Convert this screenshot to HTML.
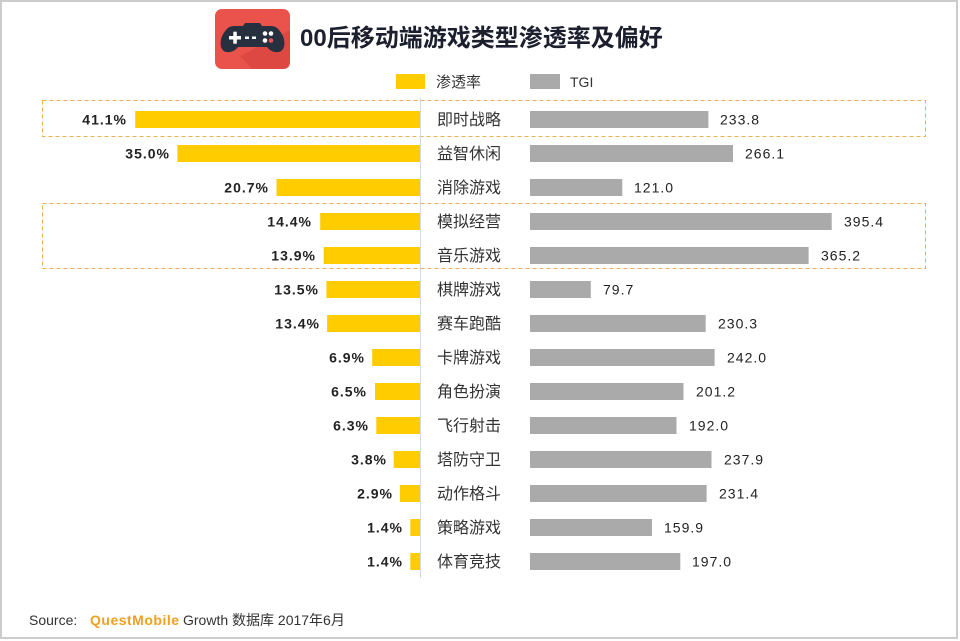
<!DOCTYPE html>
<html><head><meta charset="utf-8"><style>
html,body{margin:0;padding:0;background:#fff;}
svg{display:block;}
.cat{font-family:"Liberation Sans","Noto Sans CJK SC",sans-serif;font-size:16px;fill:#333;}
.lv{font-family:"Liberation Sans",sans-serif;font-size:14px;font-weight:bold;fill:#222;letter-spacing:1px;}
.rv{font-family:"Liberation Sans",sans-serif;font-size:14px;fill:#222;letter-spacing:1px;}
</style></head><body>
<svg width="960" height="641" viewBox="0 0 960 641" xmlns="http://www.w3.org/2000/svg">
<rect x="1" y="1" width="956" height="637" fill="#fff" stroke="#cccccc" stroke-width="2"/>
<!-- icon -->
<g>
<rect x="215" y="9" width="75" height="60" rx="7" fill="#e9534b"/>
<path d="M240 56 L290 30 L290 62 Q290 69 283 69 L252 69 Z" fill="#d9453e" opacity="0.7"/>
<path d="M234 26 Q229 26 226 30 Q219 38 221 47 Q223 53 230 52 Q235 51 238 47 L267 47 Q270 51 275 52 Q282 53 284 47 Q286 38 279 30 Q276 26 271 26 L262 26 L260 23 L245 23 L243 26 Z" fill="#26303f"/>
<rect x="229" y="36" width="12" height="3.5" fill="#fff"/>
<rect x="233.3" y="31.7" width="3.5" height="12" fill="#fff"/>
<rect x="245" y="36.5" width="4" height="2.5" fill="#fff"/>
<rect x="252" y="36.5" width="4" height="2.5" fill="#fff"/>
<circle cx="265" cy="33.5" r="2.3" fill="#fff"/>
<circle cx="271" cy="33.5" r="2.3" fill="#fff"/>
<circle cx="265" cy="40.5" r="2.3" fill="#fff"/>
<circle cx="271" cy="40.5" r="2.3" fill="#e9534b"/>
</g>
<text x="300" y="46" font-family="'Liberation Sans','Noto Sans CJK SC',sans-serif" font-size="24" font-weight="bold" fill="#1c1f2e">00后移动端游戏类型渗透率及偏好</text>
<!-- legend -->
<rect x="396" y="74" width="29" height="15" fill="#ffcc00"/>
<text x="436" y="87" class="cat" style="font-size:15px">渗透率</text>
<rect x="530" y="74" width="30" height="15" fill="#aaaaaa"/>
<text x="570" y="87" font-family="'Liberation Sans',sans-serif" font-size="14" fill="#333">TGI</text>
<!-- dashed boxes -->
<rect x="42.5" y="100.5" width="883" height="36" fill="none" stroke="#f0b050" stroke-width="1" stroke-dasharray="4,3"/>
<rect x="42.5" y="203.5" width="883" height="65" fill="none" stroke="#f0b050" stroke-width="1" stroke-dasharray="4,3"/>
<!-- axis -->
<line x1="420.5" y1="98" x2="420.5" y2="578" stroke="#d4dbe3" stroke-width="1"/>
<g id="rows"></g>
<!-- rows -->
<g>
<rect x="135.2" y="111" width="284.8" height="17" fill="#ffcc00"/><text class="lv" x="127" y="124.5" text-anchor="end">41.1%</text>
<text class="cat" x="437" y="125">即时战略</text>
<rect x="530" y="111" width="178.4" height="17" fill="#aaaaaa"/><text class="rv" x="720" y="124.5">233.8</text>

<rect x="177.4" y="145" width="242.6" height="17" fill="#ffcc00"/><text class="lv" x="170" y="158.5" text-anchor="end">35.0%</text>
<text class="cat" x="437" y="159">益智休闲</text>
<rect x="530" y="145" width="203.0" height="17" fill="#aaaaaa"/><text class="rv" x="745" y="158.5">266.1</text>

<rect x="276.5" y="179" width="143.5" height="17" fill="#ffcc00"/><text class="lv" x="269" y="192.5" text-anchor="end">20.7%</text>
<text class="cat" x="437" y="193">消除游戏</text>
<rect x="530" y="179" width="92.3" height="17" fill="#aaaaaa"/><text class="rv" x="634" y="192.5">121.0</text>

<rect x="320.2" y="213" width="99.8" height="17" fill="#ffcc00"/><text class="lv" x="312" y="226.5" text-anchor="end">14.4%</text>
<text class="cat" x="437" y="227">模拟经营</text>
<rect x="530" y="213" width="301.7" height="17" fill="#aaaaaa"/><text class="rv" x="844" y="226.5">395.4</text>

<rect x="323.7" y="247" width="96.3" height="17" fill="#ffcc00"/><text class="lv" x="316" y="260.5" text-anchor="end">13.9%</text>
<text class="cat" x="437" y="261">音乐游戏</text>
<rect x="530" y="247" width="278.6" height="17" fill="#aaaaaa"/><text class="rv" x="821" y="260.5">365.2</text>

<rect x="326.4" y="281" width="93.6" height="17" fill="#ffcc00"/><text class="lv" x="319" y="294.5" text-anchor="end">13.5%</text>
<text class="cat" x="437" y="295">棋牌游戏</text>
<rect x="530" y="281" width="60.8" height="17" fill="#aaaaaa"/><text class="rv" x="603" y="294.5">79.7</text>

<rect x="327.1" y="315" width="92.9" height="17" fill="#ffcc00"/><text class="lv" x="320" y="328.5" text-anchor="end">13.4%</text>
<text class="cat" x="437" y="329">赛车跑酷</text>
<rect x="530" y="315" width="175.7" height="17" fill="#aaaaaa"/><text class="rv" x="718" y="328.5">230.3</text>

<rect x="372.2" y="349" width="47.8" height="17" fill="#ffcc00"/><text class="lv" x="365" y="362.5" text-anchor="end">6.9%</text>
<text class="cat" x="437" y="363">卡牌游戏</text>
<rect x="530" y="349" width="184.6" height="17" fill="#aaaaaa"/><text class="rv" x="727" y="362.5">242.0</text>

<rect x="375.0" y="383" width="45.0" height="17" fill="#ffcc00"/><text class="lv" x="367" y="396.5" text-anchor="end">6.5%</text>
<text class="cat" x="437" y="397">角色扮演</text>
<rect x="530" y="383" width="153.5" height="17" fill="#aaaaaa"/><text class="rv" x="696" y="396.5">201.2</text>

<rect x="376.3" y="417" width="43.7" height="17" fill="#ffcc00"/><text class="lv" x="369" y="430.5" text-anchor="end">6.3%</text>
<text class="cat" x="437" y="431">飞行射击</text>
<rect x="530" y="417" width="146.5" height="17" fill="#aaaaaa"/><text class="rv" x="689" y="430.5">192.0</text>

<rect x="393.7" y="451" width="26.3" height="17" fill="#ffcc00"/><text class="lv" x="387" y="464.5" text-anchor="end">3.8%</text>
<text class="cat" x="437" y="465">塔防守卫</text>
<rect x="530" y="451" width="181.5" height="17" fill="#aaaaaa"/><text class="rv" x="724" y="464.5">237.9</text>

<rect x="399.9" y="485" width="20.1" height="17" fill="#ffcc00"/><text class="lv" x="393" y="498.5" text-anchor="end">2.9%</text>
<text class="cat" x="437" y="499">动作格斗</text>
<rect x="530" y="485" width="176.6" height="17" fill="#aaaaaa"/><text class="rv" x="719" y="498.5">231.4</text>

<rect x="410.3" y="519" width="9.7" height="17" fill="#ffcc00"/><text class="lv" x="403" y="532.5" text-anchor="end">1.4%</text>
<text class="cat" x="437" y="533">策略游戏</text>
<rect x="530" y="519" width="122.0" height="17" fill="#aaaaaa"/><text class="rv" x="664" y="532.5">159.9</text>

<rect x="410.3" y="553" width="9.7" height="17" fill="#ffcc00"/><text class="lv" x="403" y="566.5" text-anchor="end">1.4%</text>
<text class="cat" x="437" y="567">体育竞技</text>
<rect x="530" y="553" width="150.3" height="17" fill="#aaaaaa"/><text class="rv" x="692" y="566.5">197.0</text>
</g>
<!-- source -->
<text x="29" y="625" font-family="'Liberation Sans','Noto Sans CJK SC',sans-serif" font-size="14" fill="#333">Source:</text>
<text x="90" y="625" font-family="'Liberation Sans',sans-serif" font-size="14" font-weight="bold" fill="#f0a020" style="letter-spacing:0.5px">QuestMobile</text>
<text x="183" y="625" font-family="'Liberation Sans','Noto Sans CJK SC',sans-serif" font-size="14" fill="#333">Growth 数据库 2017年6月</text>
</svg>
</body></html>
